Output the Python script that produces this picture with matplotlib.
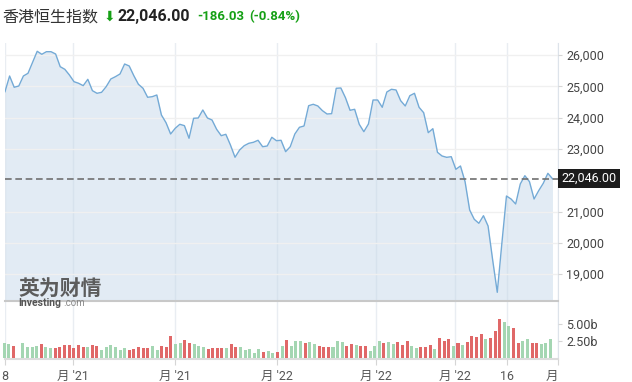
import numpy as np
import matplotlib
matplotlib.use('Agg')
import matplotlib.pyplot as plt

plt.rcParams['font.family'] = ['Roboto', 'Noto Sans CJK SC', 'DejaVu Sans']

# index closes (left to right)
close = [24828, 25329, 24968, 25010, 25329, 25415, 25767, 26118, 26022, 26105,
         26105, 26032, 25626, 25543, 25361, 25147, 25096, 25020, 25223, 24860,
         24776, 24808, 24990, 25233, 25307, 25393, 25712, 25649, 25339, 25064,
         24936, 24649, 24668, 24722, 24083, 23837, 23476, 23658, 23786, 23742,
         23339, 23978, 23987, 24243, 23987, 23923, 23626, 23422, 23466, 23125,
         22732, 22965, 23103, 23179, 23211, 23275, 23070, 23093, 23371, 23262,
         23275, 22911, 23070, 23476, 23690, 23732, 24380, 24425, 24371, 24221,
         24115, 24125, 24936, 24946, 24636, 24233, 24265, 23786, 23550, 23796,
         24562, 24562, 24329, 24818, 24904, 24882, 24540, 24371, 24700, 24776,
         24329, 24157, 23518, 23646, 22891, 22773, 22731, 22751, 22348, 22454,
         21952, 21048, 20751, 20623, 20866, 20537, 19450, 18418, 19984, 21495,
         21399, 21240, 21879, 22144, 21952, 21399, 21665, 21901, 22220, 22046]

# volume in billions, and up (g) / down (r) flag
volume = [2.3, 2.15, 1.82, 0, 2.3, 1.68, 1.68, 1.82, 2.15, 1.68,
          1.53, 1.53, 1.68, 2.0, 2.0, 1.53, 2.0, 1.68, 1.68, 2.0,
          1.82, 1.2, 1.68, 2.0, 1.68, 1.2, 1.53, 1.2, 1.34, 1.68,
          1.53, 1.53, 1.82, 1.2, 1.82, 1.68, 3.26, 2.15, 2.3, 2.73,
          2.3, 2.15, 1.82, 1.68, 1.34, 1.53, 1.53, 1.53, 1.53, 2.15,
          1.68, 1.68, 1.2, 1.34, 0.72, 1.34, 0.86, 1.05, 0.72, 0.86,
          1.82, 2.73, 1.82, 2.5, 2.5, 2.3, 2.4, 2.15, 1.82, 1.68,
          1.68, 1.68, 2.5, 2.4, 1.82, 2.15, 2.0, 1.82, 1.82, 1.0,
          1.82, 2.55, 2.3, 2.4, 2.15, 2.4, 2.0, 2.6, 1.82, 1.53,
          1.68, 1.68, 2.0, 1.4, 3.0, 2.6, 2.9, 1.8, 2.2, 2.0,
          2.4, 3.35, 3.2, 3.6, 2.8, 3.0, 4.07, 5.75, 5.36, 4.74,
          4.45, 2.2, 2.6, 2.9, 2.3, 2.2, 2.1, 2.2, 2.8]
updown = list('ggrgggggrg' 'grrrrrrrgr' 'rggggggrrr' 'rrggrrrggr'
              'rgggrrrrgr' 'rgggggrggr' 'grgggrggrr' 'rgggrrgrrg'
              'ggrggrrrgg' 'rrrgrrrgrg' 'rrrrgrrrgg' 'rrggrrggg')

last = 22046.00
change = '-186.03'
change_pct = '(-0.84%)'

price_ticks = [19000, 20000, 21000, 23000, 24000, 25000, 26000]
tick_pos = [0, 14.8, 37, 59.1, 80.7, 97.8, 109.1, 120.2]
tick_labels = ['8', "月 '21", "月 '21", "月 '22", "月 '22", "月 '22", '16', '月']

W, H = 632, 382
fig = plt.figure(figsize=(W / 100, H / 100), dpi=100)

def box(l, t, r, b):
    return [l / W, 1 - b / H, (r - l) / W, (b - t) / H]

# background frame: vertical grid + date axis
bg = fig.add_axes(box(5, 43, 558, 359))
bg.set_xlim(0, 120.2)
bg.set_ylim(0, 1)
bg.set_yticks([])
bg.set_xticks(tick_pos)
bg.set_xticklabels(tick_labels, fontsize=9, color='#555')
bg.get_xticklabels()[-1].set_ha('right')
bg.tick_params(axis='x', length=4, color='#d5d5d5', pad=4)
bg.grid(axis='x', color='#e9edf2', lw=1)
for s in ['top', 'left']:
    bg.spines[s].set_visible(False)
bg.spines['bottom'].set_color('#dcdcdc')
bg.spines['bottom'].set_linewidth(1.5)
bg.spines['right'].set_color('#dde3ea')

# price panel
ax = fig.add_axes(box(5, 43, 558, 301))
ax.patch.set_alpha(0)
x = np.arange(len(close))
ymin, ymax = 18141, 26383
ax.set_xlim(0, 120.2)
ax.set_ylim(ymin, ymax)
ax.fill_between(x, close, ymin, color='#c6d9ea', alpha=0.5, lw=0)
ax.plot(x, close, color='#74aad6', lw=1)
ax.axhline(last, color='#707070', lw=1.2, ls=(0, (4, 2.2)))
ax.set_yticks(price_ticks)
ax.set_yticklabels([f'{v:,}' for v in price_ticks])
ax.yaxis.tick_right()
ax.tick_params(axis='y', length=3, color='#d5d5d5', labelsize=9,
               labelcolor='#444', pad=3)
ax.set_xticks([])
ax.grid(axis='y', color='#f0f0f0', lw=1)
for s in ['top', 'left', 'right']:
    ax.spines[s].set_visible(False)
ax.spines['bottom'].set_color('#c8c8c8')
ax.spines['bottom'].set_linewidth(1.5)
ax.text(1.006, last, f'{last:,.2f}', transform=ax.get_yaxis_transform(),
        ha='left', va='center', fontsize=9, color='white',
        bbox=dict(boxstyle='square,pad=0.25', fc='#1c1c1c', ec='none'))

# volume panel
vol = fig.add_axes(box(5, 301, 558, 359))
vol.patch.set_alpha(0)
vx = np.arange(len(volume))
cols = ['#a4d6b2' if u == 'g' else '#e06868' for u in updown]
vol.bar(vx, volume, width=0.65, color=cols, clip_on=False)
vol.set_xlim(0.15, 119.6)
vol.set_ylim(-0.14, 8.48)
vol.set_xticks([])
vol.set_yticks([2.5, 5.0])
vol.set_yticklabels(['2.50b', '5.00b'])
vol.yaxis.tick_right()
vol.tick_params(axis='y', length=3, color='#d5d5d5', labelsize=9,
                labelcolor='#444', pad=3)
for s in vol.spines.values():
    s.set_visible(False)

# header
ty = 1 - 17 / H
fig.text(2 / W, ty, '香港恒生指数', fontsize=11.5, color='#333', va='center',
         family=['Noto Sans CJK SC'])
fig.text(104 / W, ty, '⬇', fontsize=10, color='#16a016', va='center',
         family=['DejaVu Sans'])
fig.text(118 / W, ty, f'{last:,.2f}', fontsize=11.5, color='#222',
         va='center', weight='bold')
fig.text(197 / W, ty, change, fontsize=9.5, color='#16a016', va='center',
         weight='bold')
fig.text(249 / W, ty, change_pct, fontsize=9.5, color='#16a016', va='center',
         weight='bold')

# watermark
fig.text(18 / W, 1 - 288 / H, '英为财情', fontsize=15, color='#5c5c5c',
         va='center', weight='bold', family=['Noto Sans CJK SC'])
fig.text(18 / W, 1 - 303 / H, 'Investing', fontsize=7.5, color='#555',
         va='center', weight='bold')
fig.text(63 / W, 1 - 303 / H, '.com', fontsize=7, color='#888', va='center')

fig.savefig('out.png', dpi=100)
